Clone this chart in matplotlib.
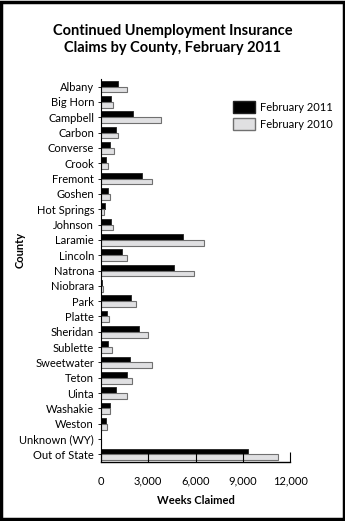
import matplotlib
matplotlib.use("Agg")
import matplotlib.pyplot as plt
from matplotlib.patches import Rectangle, Patch
import numpy as np

counties = ["Albany", "Big Horn", "Campbell", "Carbon", "Converse", "Crook", "Fremont",
            "Goshen", "Hot Springs", "Johnson", "Laramie", "Lincoln", "Natrona", "Niobrara",
            "Park", "Platte", "Sheridan", "Sublette", "Sweetwater", "Teton", "Uinta",
            "Washakie", "Weston", "Unknown (WY)", "Out of State"]
feb2011 = [1080, 655, 2050, 950, 590, 335, 2600, 465, 254, 635, 5190, 1310, 4615, 60,
           1900, 360, 2430, 425, 1840, 1650, 970, 570, 335, 30, 9333]
feb2010 = [1650, 780, 3830, 1100, 825, 425, 3260, 590, 210, 780, 6520, 1630, 5885, 150,
           2200, 530, 3000, 720, 3260, 1990, 1650, 590, 400, 20, 11238]
xticks = [0, 3000, 6000, 9000, 12000]
xticklabels = ["0", "3,000", "6,000", "9,000", "12,000"]

plt.rcParams['font.family'] = ['Lato', 'DejaVu Sans']

fig = plt.figure(figsize=(3.45, 5.21), dpi=100)
fig.patches.append(Rectangle((0.003, 0.003), 0.994, 0.994, transform=fig.transFigure,
                             fill=False, edgecolor="black", linewidth=2.5))

ax = fig.add_axes([0.2928, 0.1132, 0.5478, 0.7352])
y = np.arange(len(counties))
h = 0.38
ax.barh(y - h / 2, feb2011, height=h, color="black", edgecolor="#222222", linewidth=0.6,
        label="February 2011")
ax.barh(y + h / 2, feb2010, height=h, color="#e0e0e2", edgecolor="#707070", linewidth=0.8,
        label="February 2010")

ax.set_ylim(len(counties) - 0.5, -0.5)
ax.set_xlim(0, 12000)
ax.set_yticks(y)
ax.set_yticklabels(counties, fontsize=8)
ax.set_xticks(xticks)
ax.set_xticklabels(xticklabels, fontsize=8)
ax.tick_params(axis="x", direction="in", length=7, width=0.8, pad=10)
ax.tick_params(axis="y", direction="out", length=2, width=0.6, pad=3)
for s in ["top", "right"]:
    ax.spines[s].set_visible(False)
ax.spines["left"].set_linewidth(0.8)
ax.spines["bottom"].set_linewidth(1.0)

ax.set_xlabel("Weeks Claimed", fontsize=8, fontweight="bold", labelpad=6)
fig.text(0.058, 0.52, "County", rotation=90, fontsize=8, fontweight="bold",
         ha="center", va="center")

handles = [Patch(facecolor="black", edgecolor="#222222"),
           Patch(facecolor="#e0e0e2", edgecolor="#707070")]
fig.legend(handles, ["February 2011", "February 2010"], loc="upper left",
           bbox_to_anchor=(0.645, 0.825), frameon=False, fontsize=8,
           handlelength=2.0, handleheight=1.3, handletextpad=0.5, labelspacing=0.45)

fig.text(0.5, 0.953, "Continued Unemployment Insurance\nClaims by County, February 2011",
         ha="center", va="top", fontsize=10.5, fontweight="bold", linespacing=1.25)

fig.savefig("out.png", dpi=100)
